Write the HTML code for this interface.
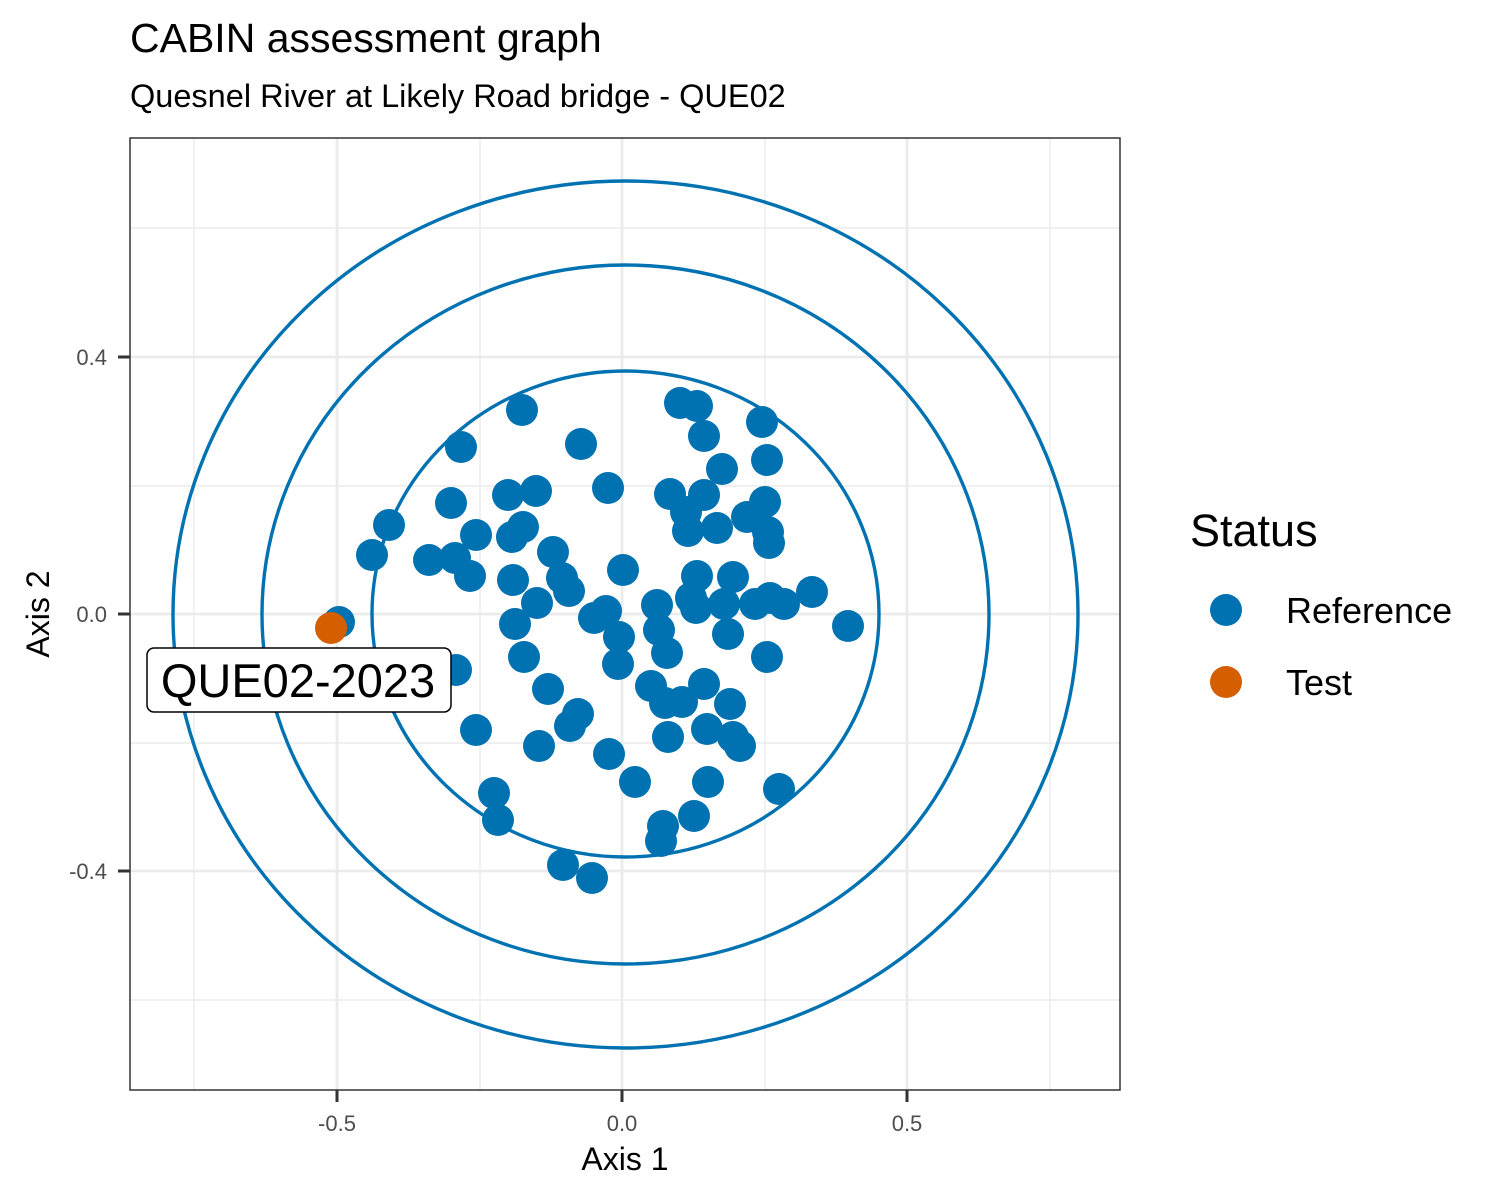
<!DOCTYPE html>
<html><head><meta charset="utf-8"><style>html,body{margin:0;padding:0;background:#fff}svg{display:block}</style></head>
<body>
<svg width="1500" height="1200" xmlns="http://www.w3.org/2000/svg" font-family="Liberation Sans, Arial, sans-serif">
<rect width="1500" height="1200" fill="#fff"/>
<text x="130" y="52" font-size="41" fill="#000">CABIN assessment graph</text>
<text x="130" y="107" font-size="32.5" fill="#000">Quesnel River at Likely Road bridge - QUE02</text>
<g stroke="#EBEBEB">
<g stroke-width="1.4">
<line x1="194" y1="138" x2="194" y2="1090"/><line x1="480" y1="138" x2="480" y2="1090"/><line x1="765" y1="138" x2="765" y2="1090"/><line x1="1050" y1="138" x2="1050" y2="1090"/>
<line x1="130" y1="228" x2="1120" y2="228"/><line x1="130" y1="486" x2="1120" y2="486"/><line x1="130" y1="743" x2="1120" y2="743"/><line x1="130" y1="1000" x2="1120" y2="1000"/>
</g>
<g stroke-width="2.8">
<line x1="337" y1="138" x2="337" y2="1090"/><line x1="622" y1="138" x2="622" y2="1090"/><line x1="907" y1="138" x2="907" y2="1090"/>
<line x1="130" y1="357" x2="1120" y2="357"/><line x1="130" y1="614" x2="1120" y2="614"/><line x1="130" y1="871" x2="1120" y2="871"/>
</g></g>
<g fill="none" stroke="#0072B2" stroke-width="3.4">
<ellipse cx="625.5" cy="614" rx="253.5" ry="243"/>
<ellipse cx="625.5" cy="614.5" rx="363.5" ry="349.5"/>
<ellipse cx="625.5" cy="614.5" rx="452.5" ry="433.5"/>
</g>
<g fill="#0072B2">
<circle cx="339" cy="622" r="16"/><circle cx="372" cy="555" r="16"/><circle cx="389" cy="525" r="16"/><circle cx="429" cy="560" r="16"/><circle cx="451" cy="503" r="16"/><circle cx="455" cy="558" r="16"/><circle cx="461" cy="447" r="16"/><circle cx="470" cy="576" r="16"/><circle cx="476" cy="535" r="16"/><circle cx="456" cy="670" r="16"/><circle cx="476" cy="730" r="16"/><circle cx="494" cy="793" r="16"/><circle cx="498" cy="820" r="16"/><circle cx="508" cy="495" r="16"/><circle cx="512" cy="537" r="16"/><circle cx="523" cy="527" r="16"/><circle cx="513" cy="580" r="16"/><circle cx="522" cy="410" r="16"/><circle cx="536" cy="491" r="16"/><circle cx="515" cy="624" r="16"/><circle cx="524" cy="657" r="16"/><circle cx="537" cy="603" r="16"/><circle cx="553" cy="552" r="16"/><circle cx="562" cy="578" r="16"/><circle cx="569" cy="591" r="16"/><circle cx="548" cy="689" r="16"/><circle cx="539" cy="746" r="16"/><circle cx="570" cy="726" r="16"/><circle cx="578" cy="714" r="16"/><circle cx="581" cy="444" r="16"/><circle cx="608" cy="488" r="16"/><circle cx="623" cy="570" r="16"/><circle cx="606" cy="611" r="16"/><circle cx="594" cy="618" r="16"/><circle cx="619" cy="637" r="16"/><circle cx="618" cy="664" r="16"/><circle cx="609" cy="754" r="16"/><circle cx="635" cy="782" r="16"/><circle cx="651" cy="686" r="16"/><circle cx="657" cy="605" r="16"/><circle cx="659" cy="630" r="16"/><circle cx="667" cy="653" r="16"/><circle cx="665" cy="703" r="16"/><circle cx="682" cy="702" r="16"/><circle cx="668" cy="737" r="16"/><circle cx="661" cy="841" r="16"/><circle cx="663" cy="826" r="16"/><circle cx="694" cy="816" r="16"/><circle cx="680" cy="403" r="16"/><circle cx="697" cy="406" r="16"/><circle cx="704" cy="436" r="16"/><circle cx="722" cy="469" r="16"/><circle cx="670" cy="494" r="16"/><circle cx="704" cy="495" r="16"/><circle cx="686" cy="512" r="16"/><circle cx="688" cy="531" r="16"/><circle cx="717" cy="528" r="16"/><circle cx="697" cy="576" r="16"/><circle cx="733" cy="577" r="16"/><circle cx="691" cy="598" r="16"/><circle cx="696" cy="608" r="16"/><circle cx="724" cy="604" r="16"/><circle cx="728" cy="634" r="16"/><circle cx="704" cy="684" r="16"/><circle cx="730" cy="704" r="16"/><circle cx="707" cy="729" r="16"/><circle cx="733" cy="737" r="16"/><circle cx="740" cy="746" r="16"/><circle cx="708" cy="782" r="16"/><circle cx="747" cy="517" r="16"/><circle cx="765" cy="502" r="16"/><circle cx="762" cy="422" r="16"/><circle cx="767" cy="460" r="16"/><circle cx="768" cy="532" r="16"/><circle cx="769" cy="543" r="16"/><circle cx="755" cy="604" r="16"/><circle cx="770" cy="598" r="16"/><circle cx="784" cy="604" r="16"/><circle cx="812" cy="592" r="16"/><circle cx="848" cy="626" r="16"/><circle cx="767" cy="657" r="16"/><circle cx="779" cy="789" r="16"/><circle cx="563" cy="865" r="16"/><circle cx="592" cy="878" r="16"/>
</g>
<circle cx="331" cy="628" r="16" fill="#D55E00"/>
<rect x="147" y="648" width="304" height="64" rx="7" fill="#fff" stroke="#000" stroke-width="1.5"/>
<text x="298" y="697" font-size="47" text-anchor="middle" fill="#000">QUE02-2023</text>
<rect x="130" y="138" width="990" height="952" fill="none" stroke="#333" stroke-width="1.5"/>
<g stroke="#333" stroke-width="3">
<line x1="118" y1="357" x2="130" y2="357"/><line x1="118" y1="614" x2="130" y2="614"/><line x1="118" y1="871" x2="130" y2="871"/>
<line x1="337" y1="1090" x2="337" y2="1102"/><line x1="622" y1="1090" x2="622" y2="1102"/><line x1="907" y1="1090" x2="907" y2="1102"/>
</g>
<g font-size="22" fill="#4D4D4D">
<text x="107" y="365" text-anchor="end">0.4</text><text x="107" y="622" text-anchor="end">0.0</text><text x="107" y="879" text-anchor="end">-0.4</text>
<text x="337" y="1131" text-anchor="middle">-0.5</text><text x="622" y="1131" text-anchor="middle">0.0</text><text x="907" y="1131" text-anchor="middle">0.5</text>
</g>
<text x="625" y="1170" font-size="32" text-anchor="middle" fill="#000">Axis 1</text>
<text transform="translate(49,614) rotate(-90)" font-size="32" text-anchor="middle" fill="#000">Axis 2</text>
<text x="1190" y="546" font-size="45" fill="#000">Status</text>
<circle cx="1226" cy="610" r="16" fill="#0072B2"/>
<circle cx="1226" cy="682" r="16" fill="#D55E00"/>
<text x="1286" y="623" font-size="36" fill="#000">Reference</text>
<text x="1286" y="695" font-size="36" fill="#000">Test</text>
</svg>
</body></html>
